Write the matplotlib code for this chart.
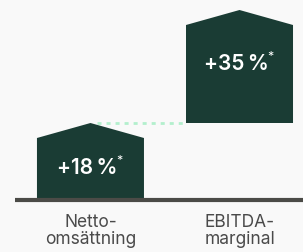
import matplotlib
matplotlib.use("Agg")
import matplotlib.pyplot as plt

# data
categories = ["Netto-\nomsättning", "EBITDA-\nmarginal"]
growth = [18, 35]           # percent shown in each bar
bar_heights = [77, 113]     # drawn height of each block (waterfall, stacked)

BG = "#f9f9f9"
BAR = "#1a3c34"
BASE = "#4b4b47"
DOTS = "#b3efcd"
LABEL = "#4a4a4a"

roof = 15          # rise of the roof
width = 0.718
label_frac = [0.42, 0.52]

fig = plt.figure(figsize=(3.03, 2.52), dpi=100, facecolor=BG)
ax = fig.add_axes([0, 0, 1, 1])
ax.set_facecolor(BG)
ax.set_xlim(-0.607, 1.426)
ax.set_ylim(-52, 200)
ax.axis("off")

bottom = 0
for i, (h, g) in enumerate(zip(bar_heights, growth)):
    x0, x1 = i - width / 2, i + width / 2
    top = bottom + h
    ax.fill([x0, x0, i, x1, x1],
            [bottom, top - roof, top, top - roof, bottom],
            color=BAR, lw=0, zorder=2)

    t = ax.annotate(f"+{g}\u2009%", xy=(i, bottom + label_frac[i] * h),
                    xytext=(-2.5, 0), textcoords="offset points",
                    ha="center", va="center", color="white",
                    fontsize=15, fontweight="semibold", family="Inter", zorder=3)
    ax.annotate("*", xy=(1, 1), xycoords=t, xytext=(-0.5, 2),
                textcoords="offset points", ha="left", va="top",
                color="white", fontsize=9, family="Inter", zorder=3)

    ax.text(i, -31, categories[i], ha="center", va="center",
            color=LABEL, fontsize=12.5, family="Inter", linespacing=0.95)

    if i + 1 < len(bar_heights):
        # dotted connector from this peak to the next block
        ax.plot([i + 0.044, i + 1 - width / 2 - 0.02], [top, top],
                color=DOTS, lw=2, linestyle=(0, (1.45, 1.8)),
                solid_capstyle="butt", zorder=1)
    bottom = top

# baseline
ax.plot([-0.506, 1.426], [0, 0], color=BASE, lw=3,
        solid_capstyle="butt", zorder=4)

fig.savefig("out.png", dpi=100, facecolor=BG)
